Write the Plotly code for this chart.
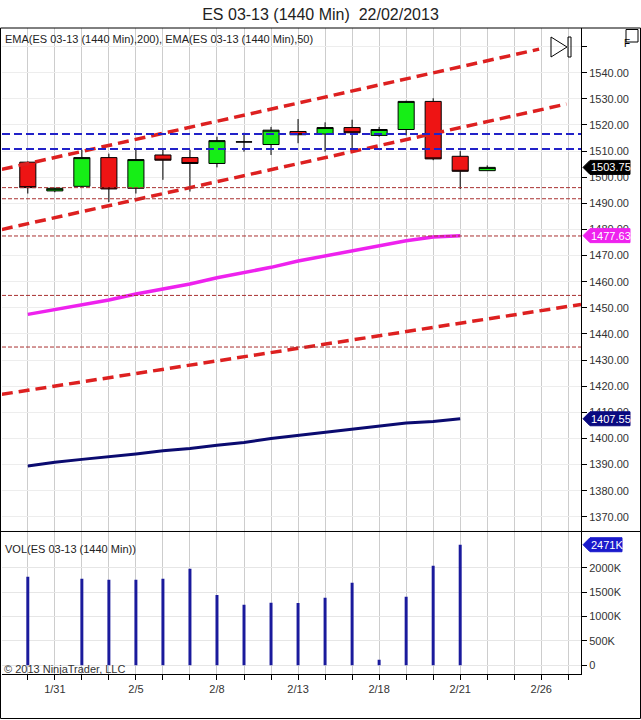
import plotly.graph_objects as go

# =========================================================
# DATA
# =========================================================

slot_dates = ["1/30", "1/31", "2/1", "2/4", "2/5", "2/6", "2/7", "2/8", "2/11", "2/12", "2/13",
              "2/14", "2/15", "2/18", "2/19", "2/20", "2/21", "2/22", "2/25", "2/26", "2/27"]
labelled_dates = ["1/31", "2/5", "2/8", "2/13", "2/18", "2/21", "2/26"]

opens = [1505.75, 1494.75, 1496.5, 1507.5, 1495.75, 1508.5, 1507.5, 1505.25, 1513.5,
         1512.5, 1517.5, 1516.5, 1519.0, 1516.0, 1518.25, 1529.0, 1508.0, 1502.5]
highs = [1506.0, 1496.0, 1510.5, 1509.0, 1511.0, 1510.75, 1510.5, 1515.5, 1517.0,
         1519.25, 1522.25, 1521.0, 1522.0, 1519.25, 1529.25, 1530.25, 1510.0, 1504.5]
lows = [1493.75, 1494.25, 1496.25, 1490.5, 1493.75, 1499.0, 1494.5, 1503.75, 1509.75,
        1508.5, 1513.0, 1509.75, 1510.75, 1515.5, 1516.0, 1506.5, 1495.5, 1502.5]
closes = [1496.0, 1495.75, 1507.5, 1495.5, 1506.75, 1506.5, 1505.25, 1514.0, 1513.5,
          1518.0, 1516.25, 1519.0, 1517.0, 1518.25, 1529.0, 1507.0, 1502.25, 1503.75]

# volume in thousands (no print for 1/31 and 2/22)
volume_k = [1816, None, 1775, 1754, 1754, 1775, 1980, 1440, 1242, 1283, 1276, 1386,
            1693, 116, 1406, 2041, 2471, None]

ema50 = [1447.5, 1449.4, 1451.4, 1453.0, 1455.3, 1457.2, 1459.1, 1461.5, 1463.4,
         1465.5, 1467.9, 1469.8, 1471.7, 1473.8, 1475.7, 1477.1, 1477.63]
ema200 = [1389.5, 1390.9, 1392.0, 1393.0, 1394.1, 1395.3, 1396.2, 1397.4, 1398.5,
          1400.0, 1401.2, 1402.3, 1403.5, 1404.7, 1405.9, 1406.5, 1407.55]

# drawn trend lines (slot index, price)
channel_upper_x = [-0.96, 18.92]
channel_upper_y = [1503.0, 1549.0]
channel_mid_x = [-0.96, 19.93]
channel_mid_y = [1480.0, 1528.0]
channel_low_x = [-0.96, 20.47]
channel_low_y = [1416.9, 1451.3]

blue_levels = [1516.5, 1510.75]
red_levels = [1496.0, 1491.75, 1477.5, 1454.75, 1435.0]

price_ticks = list(range(1370, 1560, 10))
volume_ticks = [0, 500, 1000, 1500, 2000]

FONT = "Arial, Liberation Sans, sans-serif"

# =========================================================
# FIGURE
# =========================================================

xs = list(range(len(slot_dates)))
candle_x = xs[:len(opens)]

fig = go.Figure()

fig.add_trace(go.Candlestick(
    x=candle_x, open=opens, high=highs, low=lows, close=closes,
    increasing=dict(fillcolor="#16ee16", line=dict(color="black", width=1)),
    decreasing=dict(fillcolor="#ee1414", line=dict(color="black", width=1)),
    whiskerwidth=0, hoverinfo="skip", xaxis="x", yaxis="y"
))

fig.add_trace(go.Scatter(x=xs[:len(ema50)], y=ema50, mode="lines",
                         line=dict(color="#ee22ee", width=3.5), hoverinfo="skip"))
fig.add_trace(go.Scatter(x=xs[:len(ema200)], y=ema200, mode="lines",
                         line=dict(color="#0b0b70", width=3), hoverinfo="skip"))

for cx, cy in [(channel_upper_x, channel_upper_y),
               (channel_mid_x, channel_mid_y),
               (channel_low_x, channel_low_y)]:
    fig.add_trace(go.Scatter(x=cx, y=cy, mode="lines",
                             line=dict(color="#dd2020", width=3.5, dash="11px,6px"),
                             hoverinfo="skip"))

vol_x = [x for x, v in zip(candle_x, volume_k) if v is not None]
vol_y = [v * 1000 for v in volume_k if v is not None]
fig.add_trace(go.Bar(x=vol_x, y=vol_y, width=0.11, marker=dict(color="#1a1a9c", line=dict(width=0)),
                     xaxis="x", yaxis="y2", hoverinfo="skip"))

for lvl in blue_levels:
    fig.add_hline(y=lvl, line=dict(color="#2222c8", width=2, dash="8px,4px"))
for lvl in red_levels:
    fig.add_hline(y=lvl, line=dict(color="#a83030", width=1, dash="4px,2px"))

# =========================================================
# AXES
# =========================================================

split = 0.2206

fig.update_layout(
    width=641, height=720,
    margin=dict(l=2, r=60, t=28, b=46),
    paper_bgcolor="white", plot_bgcolor="white",
    showlegend=False, hovermode=False,
    boxgap=0.15, boxgroupgap=0.3,
    font=dict(family=FONT, size=11, color="#333333"),
    title=dict(text="ES 03-13 (1440 Min) \u00a022/02/2013", x=0.5, xanchor="center",
               y=1 - 14 / 720, yanchor="middle", font=dict(family=FONT, size=16, color="#222222")),
    xaxis=dict(
        range=[-0.955, 20.47], anchor="y2",
        tickvals=xs, ticktext=[d if d in labelled_dates else "" for d in slot_dates],
        ticks="outside", ticklen=5, tickcolor="black",
        showgrid=True, gridcolor="#cdcdcd", gridwidth=1,
        showline=True, linecolor="black", zeroline=False,
        rangeslider=dict(visible=False),
    ),
    yaxis=dict(
        domain=[split, 1], range=[1364.4, 1557.1], side="right", anchor="x",
        tickvals=price_ticks,
        ticktext=["" if p == 1550 else f"{p:.2f}" for p in price_ticks],
        ticks="outside", ticklen=5, tickcolor="black",
        showgrid=True, gridcolor="#ededed", zeroline=False,
        showline=True, linecolor="black",
    ),
    yaxis2=dict(
        domain=[0, split], range=[-178000, 2742000], side="right", anchor="x",
        tickvals=[v * 1000 for v in volume_ticks],
        ticktext=[f"{v}K" if v else "0" for v in volume_ticks],
        ticks="outside", ticklen=5, tickcolor="black",
        showgrid=True, gridcolor="#e6e6e6", zeroline=False,
        showline=True, linecolor="black",
    ),
)

# =========================================================
# FRAME, ICONS, TAGS
# =========================================================

shapes = []
# outer frame and panel separator
shapes.append(dict(type="rect", xref="paper", yref="paper", xsizemode="pixel", ysizemode="pixel",
                   xanchor=0, yanchor=1, x0=-1.5, x1=638.5, y0=0, y1=-690.5,
                   line=dict(color="black", width=1)))
shapes.append(dict(type="line", xref="paper", yref="paper", xsizemode="pixel",
                   xanchor=0, x0=-2, x1=639, y0=split, y1=split,
                   line=dict(color="black", width=1)))
# "play to end" icon
shapes.append(dict(type="path", xref="paper", yref="paper", xsizemode="pixel", ysizemode="pixel",
                   xanchor=1, yanchor=1, path="M -30 -9 L -14 -19 L -30 -29 Z",
                   line=dict(color="black", width=1)))
shapes.append(dict(type="rect", xref="paper", yref="paper", xsizemode="pixel", ysizemode="pixel",
                   xanchor=1, yanchor=1, x0=-13, x1=-10, y0=-9, y1=-29,
                   line=dict(color="black", width=1)))
# "F" box
shapes.append(dict(type="rect", xref="paper", yref="paper", xsizemode="pixel", ysizemode="pixel",
                   xanchor=1, yanchor=1, x0=45, x1=57, y0=-1.5, y1=-14,
                   line=dict(color="black", width=1), fillcolor="white"))

annotations = [
    dict(text="F", xref="paper", yref="paper", x=1, y=1, xshift=51, yshift=-8,
         showarrow=False, font=dict(size=10, color="black")),
    dict(text="EMA(ES 03-13 (1440 Min),200), EMA(ES 03-13 (1440 Min),50)",
         xref="paper", yref="paper", x=0, y=1, xanchor="left", yanchor="middle",
         xshift=1, yshift=-11, showarrow=False, font=dict(size=11, color="#222222")),
    dict(text="VOL(ES 03-13 (1440 Min))", xref="paper", yref="paper", x=0, y=split,
         xanchor="left", yanchor="middle", xshift=1, yshift=-17.5, showarrow=False,
         font=dict(size=11, color="#222222")),
    dict(text="\u00a9 2013 NinjaTrader, LLC", xref="paper", yref="paper", x=0, y=0,
         xanchor="left", yanchor="middle", xshift=0, yshift=5, showarrow=False,
         font=dict(size=11, color="#333333")),
]


def add_tag(value, yref, color, text, width):
    shapes.append(dict(type="path", xref="paper", yref=yref, xsizemode="pixel", ysizemode="pixel",
                       xanchor=1, yanchor=value,
                       path=f"M 2 0 L 9 7 L {width} 7 L {width} -7 L 9 -7 Z",
                       fillcolor=color, line=dict(color=color, width=1), layer="above"))
    annotations.append(dict(text=text, xref="paper", yref=yref, x=1, y=value,
                            xanchor="center", yanchor="middle", xshift=(9 + width) / 2 + 0.5,
                            showarrow=False, font=dict(size=11, color="white")))


add_tag(closes[-1], "y", "#000000", f"{closes[-1]:.2f}", 49)
add_tag(ema50[-1], "y", "#ee22ee", f"{ema50[-1]:.2f}", 49)
add_tag(ema200[-1], "y", "#0a0a80", f"{ema200[-1]:.2f}", 49)
add_tag(vol_y[-1], "y2", "#1a1acc", f"{volume_k[16]}K", 41)

fig.update_layout(shapes=list(fig.layout.shapes) + shapes, annotations=annotations)

# page margin off so the chart sits at the window's corner
fig.write_html("out.html", config={"displayModeBar": False},
               post_script="document.body.style.margin='0';")
